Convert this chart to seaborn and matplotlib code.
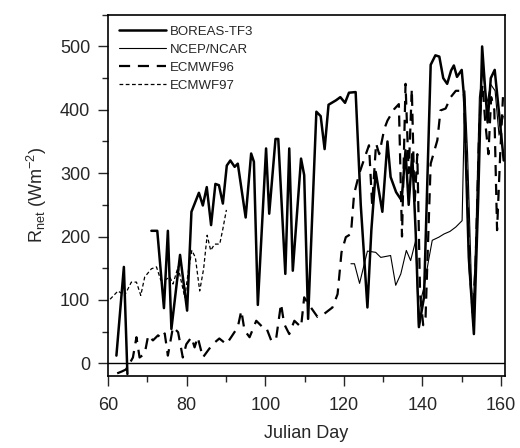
import numpy as np
import pandas as pd
import matplotlib
matplotlib.use("Agg")
import matplotlib.pyplot as plt
import seaborn as sb
from matplotlib.ticker import MultipleLocator

# BOREAS-TF3 (two pieces, gap between day 65 and 71)
boreas_day_a = [62.1, 64.0, 64.9]
boreas_val_a = [12, 152, -17]
boreas_day_b = [71.0, 72.5, 74.2, 75.2, 76.1, 78.3, 80.1, 81.2, 83.1, 84.1, 85.1, 86.2,
                87.3, 88.2, 89.2, 90.2, 91.1, 92.2, 93.0, 95.0, 96.4, 97.1, 98.1, 100.2,
                101.0, 102.6, 103.3, 105.1, 106.1, 107.0, 109.1, 109.9, 110.9, 113.0, 114.1,
                115.1, 116.1, 118.0, 119.1, 120.3, 121.3, 123.0, 124.3, 126.0, 127.0, 128.1,
                129.8, 131.1, 131.9, 133.3, 134.7, 135.7, 136.5, 137.4, 138.3, 139.1, 140.4,
                142.1, 143.3, 144.3, 145.3, 146.3, 147.3, 148.0, 148.8, 150.0, 150.6, 151.8,
                153.1, 154.2, 155.2, 156.0, 156.6, 157.4, 158.4, 159.6, 160.7]
boreas_val_b = [209, 209, 87, 209, 54, 171, 83, 239, 269, 249, 278, 218,
                283, 281, 252, 312, 320, 310, 315, 230, 331, 318, 92, 339,
                236, 354, 354, 141, 339, 146, 323, 297, 70, 397, 390,
                338, 408, 415, 420, 411, 427, 428, 250, 88, 210, 302,
                239, 350, 294, 270, 257, 336, 250, 330, 204, 57, 104,
                471, 486, 484, 450, 441, 462, 470, 452, 463, 420, 167,
                46, 260, 500, 430, 380, 450, 463, 389, 320]

ncep_day = [121.8, 122.7, 124.0, 126.0, 128.1, 129.4, 131.9, 133.2, 134.5, 135.9, 137.0,
            138.3, 139.0, 139.6, 140.4, 141.5, 142.5, 144.2, 145.5, 147.0, 148.5, 150.1,
            150.8, 151.5, 152.8, 153.6, 154.5, 155.4, 156.4, 157.4, 158.5, 159.5, 160.6]
ncep_val = [157, 157, 126, 177, 175, 167, 170, 123, 141, 178, 162,
            194, 60, 100, 120, 160, 194, 199, 204, 208, 215, 225,
            430, 330, 60, 200, 420, 460, 410, 440, 430, 360, 390]

ecmwf96_day = [62.3, 63.5, 64.5, 65.5, 66.3, 67.2, 68.0, 69.3, 70.2, 71.4, 72.7, 73.6,
               74.4, 75.2, 76.5, 77.8, 79.0, 79.9, 81.2, 82.0, 82.8, 84.1, 85.4, 86.6,
               88.3, 90.1, 91.3, 93.0, 93.9, 94.7, 96.0, 97.7, 99.3, 100.2, 101.5, 102.7,
               104.0, 104.8, 106.1, 107.4, 109.1, 109.9, 111.6, 113.3, 115.0, 117.1, 118.4,
               119.4, 120.5, 121.8, 122.6, 123.9, 125.6, 126.4, 127.2, 128.2, 129.0, 130.3,
               131.1, 132.8, 134.0, 134.8, 135.7, 136.5, 137.3, 138.0, 138.7, 139.4, 140.2,
               140.8, 142.1, 143.8, 144.6, 145.9, 147.2, 148.5, 149.7, 150.5, 151.3, 152.0,
               152.8, 153.5, 154.5, 155.3, 156.0, 156.8, 157.5, 158.3, 159.0, 159.8, 160.5]
ecmwf96_val = [-16, -13, -10, 0, 9, 41, 9, 15, 44, 36, 44, 39,
               47, 12, 57, 49, 9, 30, 41, 25, 41, 9, 20, 30,
               39, 30, 41, 57, 83, 52, 41, 67, 57, 57, 36, 36,
               94, 62, 46, 67, 57, 104, 88, 73, 78, 88, 109,
               175, 199, 204, 267, 299, 330, 344, 250, 347, 330, 370,
               383, 401, 409, 200, 441, 300, 433, 250, 330, 110, 60,
               73, 315, 352, 399, 402, 420, 430, 430, 430, 300, 150,
               80, 150, 380, 440, 380, 330, 420, 400, 210, 330, 420]

ecmwf97_day = [60.5, 62.5, 64.2, 65.9, 67.2, 68.3, 69.3, 71.0, 72.3, 73.4, 74.4, 75.7,
               76.5, 77.8, 79.5, 80.5, 81.3, 82.2, 83.3, 84.3, 85.2, 86.1, 87.1, 88.4,
               89.2, 90.1]
ecmwf97_val = [101, 114, 107, 128, 128, 107, 136, 149, 152, 131, 131, 136,
               125, 152, 104, 149, 178, 167, 114, 149, 202, 178, 188, 188,
               212, 242]

sb.set_style("ticks")
plt.rcParams['font.family'] = ['Liberation Sans', 'DejaVu Sans']

fig = plt.figure(figsize=(5.2, 4.48), dpi=100)
ax = fig.add_axes([0.208, 0.161, 0.763, 0.806])

ax.axhline(0, color='black', lw=1.0)

sb.lineplot(x=boreas_day_a, y=boreas_val_a, ax=ax, color='black', lw=1.8,
            estimator=None, sort=False, label='BOREAS-TF3')
sb.lineplot(x=boreas_day_b, y=boreas_val_b, ax=ax, color='black', lw=1.8,
            estimator=None, sort=False)
sb.lineplot(x=ncep_day, y=ncep_val, ax=ax, color='black', lw=0.8,
            estimator=None, sort=False, label='NCEP/NCAR')
sb.lineplot(x=ecmwf96_day, y=ecmwf96_val, ax=ax, color='black', lw=1.6,
            linestyle=(0, (5, 3.5)), estimator=None, sort=False, label='ECMWF96')
sb.lineplot(x=ecmwf97_day, y=ecmwf97_val, ax=ax, color='black', lw=0.9,
            linestyle=(0, (3, 2)), estimator=None, sort=False, label='ECMWF97')

ax.set_xlim(60, 161)
ax.set_ylim(-20, 550)
ax.xaxis.set_major_locator(MultipleLocator(20))
ax.xaxis.set_minor_locator(MultipleLocator(10))
ax.yaxis.set_major_locator(MultipleLocator(100))
ax.yaxis.set_minor_locator(MultipleLocator(50))
ax.tick_params(which='major', length=7, width=1, labelsize=13, direction='out', pad=6)
ax.tick_params(which='minor', length=4, width=1, direction='out')
ax.tick_params(axis='x', pad=8)
for s in ax.spines.values():
    s.set_visible(True)
    s.set_linewidth(1.2)
    s.set_color('black')

ax.set_xlabel('Julian Day', fontsize=13, labelpad=8)
ax.set_ylabel('R$_{\\mathregular{net}}$ (Wm$^{\\mathregular{-2}}$)', fontsize=13, labelpad=8)

ax.legend(loc='upper left', frameon=False, fontsize=9.5, handlelength=3.6,
          handletextpad=0.25, labelspacing=0.45, borderaxespad=0.4)

fig.savefig('out.png', dpi=100)
